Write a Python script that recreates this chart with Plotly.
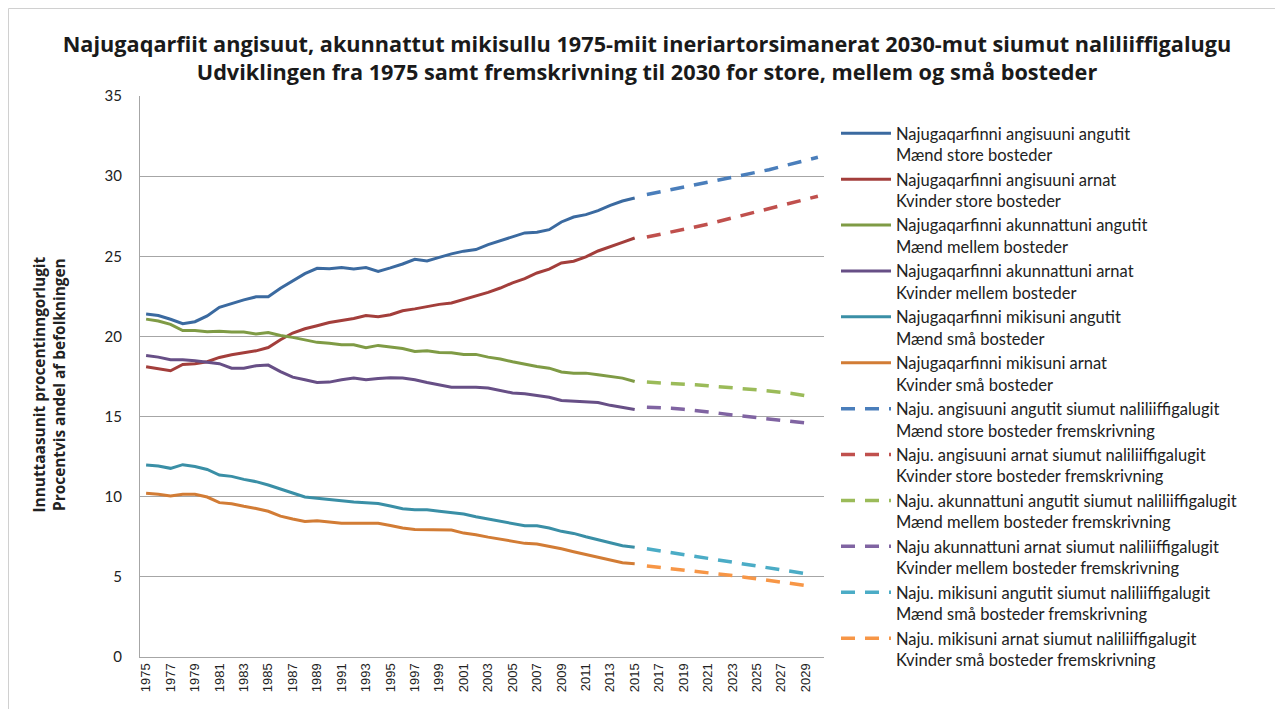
import plotly.graph_objects as go

years_hist = list(range(1975, 2016))
years_proj_long = list(range(2016, 2031))
years_proj_short = list(range(2016, 2030))

maend_store = [21.4, 21.3, 21.07, 20.8, 20.92, 21.28, 21.82, 22.06, 22.28, 22.47, 22.47,
               23.0, 23.44, 23.92, 24.25, 24.22, 24.3, 24.2, 24.3, 24.06, 24.28,
               24.52, 24.81, 24.71, 24.93, 25.15, 25.32, 25.42, 25.73, 25.98, 26.25,
               26.46, 26.5, 26.66, 27.14, 27.45, 27.6, 27.85, 28.18, 28.45, 28.64]
kvinder_store = [18.11, 18.0, 17.86, 18.25, 18.3, 18.42, 18.69, 18.86, 19.0, 19.1, 19.31,
                 19.79, 20.21, 20.48, 20.67, 20.87, 21.0, 21.12, 21.3, 21.23, 21.35,
                 21.6, 21.72, 21.88, 22.0, 22.09, 22.3, 22.5, 22.75, 23.02, 23.34,
                 23.6, 23.96, 24.2, 24.58, 24.69, 24.96, 25.33, 25.62, 25.87, 26.14]
maend_mellem = [21.08, 20.96, 20.75, 20.37, 20.37, 20.29, 20.33, 20.27, 20.27, 20.15, 20.25,
                20.06, 19.94, 19.79, 19.63, 19.58, 19.48, 19.48, 19.29, 19.44, 19.35,
                19.25, 19.06, 19.1, 19.0, 18.98, 18.88, 18.88, 18.71, 18.59, 18.42,
                18.27, 18.13, 18.02, 17.78, 17.71, 17.71, 17.61, 17.5, 17.4, 17.19]
kvinder_mellem = [18.81, 18.71, 18.54, 18.54, 18.48, 18.38, 18.3, 18.02, 18.02, 18.17, 18.21,
                  17.8, 17.46, 17.3, 17.13, 17.15, 17.3, 17.4, 17.3, 17.38, 17.42,
                  17.41, 17.3, 17.13, 17.0, 16.83, 16.83, 16.83, 16.78, 16.63, 16.47,
                  16.42, 16.3, 16.21, 16.0, 15.96, 15.92, 15.88, 15.7, 15.55, 15.44]
maend_smaa = [11.98, 11.91, 11.77, 12.0, 11.89, 11.7, 11.35, 11.27, 11.08, 10.94, 10.73,
              10.5, 10.23, 9.98, 9.9, 9.85, 9.77, 9.67, 9.63, 9.58, 9.42,
              9.25, 9.19, 9.19, 9.1, 9.0, 8.92, 8.75, 8.61, 8.46, 8.3,
              8.19, 8.19, 8.05, 7.84, 7.71, 7.5, 7.3, 7.13, 6.94, 6.84]
kvinder_smaa = [10.21, 10.15, 10.04, 10.15, 10.15, 9.98, 9.63, 9.56, 9.4, 9.27, 9.09,
                8.79, 8.61, 8.46, 8.5, 8.4, 8.34, 8.34, 8.32, 8.34, 8.21,
                8.05, 7.96, 7.94, 7.92, 7.92, 7.73, 7.63, 7.48, 7.34, 7.19,
                7.09, 7.05, 6.92, 6.75, 6.57, 6.4, 6.24, 6.05, 5.88, 5.82]

proj_maend_store = [28.85, 29.0, 29.15, 29.3, 29.45, 29.6, 29.75, 29.9, 30.05, 30.2,
                    30.4, 30.6, 30.8, 31.0, 31.18]
proj_kvinder_store = [26.2, 26.35, 26.5, 26.7, 26.85, 27.0, 27.2, 27.4, 27.55, 27.75,
                      27.95, 28.15, 28.35, 28.55, 28.75]
proj_maend_mellem = [17.15, 17.12, 17.08, 17.02, 16.98, 16.92, 16.87, 16.8, 16.74, 16.67,
                     16.6, 16.52, 16.43, 16.3]
proj_kvinder_mellem = [15.58, 15.57, 15.52, 15.45, 15.38, 15.3, 15.2, 15.1, 15.02, 14.93,
                       14.85, 14.77, 14.68, 14.6]
proj_maend_smaa = [6.75, 6.63, 6.5, 6.38, 6.26, 6.14, 6.03, 5.91, 5.8, 5.68,
                   5.56, 5.45, 5.33, 5.2]
proj_kvinder_smaa = [5.68, 5.6, 5.52, 5.44, 5.36, 5.27, 5.18, 5.08, 4.98, 4.88,
                     4.78, 4.68, 4.57, 4.46]

names = [
    "Najugaqarfinni angisuuni angutit<br>Mænd store bosteder",
    "Najugaqarfinni angisuuni arnat<br>Kvinder store bosteder",
    "Najugaqarfinni akunnattuni angutit<br>Mænd mellem bosteder",
    "Najugaqarfinni akunnattuni arnat<br>Kvinder mellem bosteder",
    "Najugaqarfinni mikisuni angutit<br>Mænd små bosteder",
    "Najugaqarfinni mikisuni arnat<br>Kvinder små bosteder",
    "Naju. angisuuni angutit siumut naliliiffigalugit<br>Mænd store bosteder fremskrivning",
    "Naju. angisuuni arnat siumut naliliiffigalugit<br>Kvinder store bosteder fremskrivning",
    "Naju. akunnattuni angutit siumut naliliiffigalugit<br>Mænd mellem bosteder fremskrivning",
    "Naju akunnattuni arnat siumut naliliiffigalugit<br>Kvinder mellem bosteder fremskrivning",
    "Naju. mikisuni angutit siumut naliliiffigalugit<br>Mænd små bosteder fremskrivning",
    "Naju. mikisuni arnat siumut naliliiffigalugit<br>Kvinder små bosteder fremskrivning",
]

hist_series = [maend_store, kvinder_store, maend_mellem, kvinder_mellem, maend_smaa, kvinder_smaa]
proj_series = [proj_maend_store, proj_kvinder_store, proj_maend_mellem,
               proj_kvinder_mellem, proj_maend_smaa, proj_kvinder_smaa]
proj_years = [years_proj_long, years_proj_long, years_proj_short,
              years_proj_short, years_proj_short, years_proj_short]

solid_colors = ["#3B6AA0", "#A33E3B", "#7F9B45", "#674F86", "#3A8FA6", "#D27C35"]
dash_colors = ["#4A7EBB", "#C0504D", "#9BBB59", "#8064A2", "#4BACC6", "#F79646"]

fig = go.Figure()
for k, (name, ys, c) in enumerate(zip(names[:6], hist_series, solid_colors)):
    fig.add_trace(go.Scatter(x=years_hist, y=ys, mode="lines", name=name,
                             legendgroup=f"g{k}",
                             line=dict(color=c, width=3)))
for k, (name, xs, ys, c) in enumerate(zip(names[6:], proj_years, proj_series, dash_colors)):
    fig.add_trace(go.Scatter(x=xs, y=ys, mode="lines", name=name,
                             legendgroup=f"g{k + 6}",
                             line=dict(color=c, width=3.5, dash="14px,10px")))

tick_years = list(range(1975, 2030, 2))

# figure is drawn inside the page's 8px body margin, so it is 8px smaller
W, H = 1275, 701
PL, PT = 132, 88          # plot area left / top in figure coords
PW, PH = 684, 561         # plot area size

fig.update_layout(
    width=W, height=H,
    paper_bgcolor="white", plot_bgcolor="white",
    margin=dict(l=PL, r=W - PL - PW, t=PT, b=H - PT - PH),
    title=dict(
        text="Najugaqarfiit angisuut, akunnattut mikisullu 1975-miit ineriartorsimanerat 2030-mut siumut naliliiffigalugu<br>Udviklingen fra 1975 samt fremskrivning til 2030 for store, mellem og små bosteder",
        font=dict(family="Open Sans", size=21.7, color="#1A1A1A", weight="bold"),
        x=639 / W, xanchor="center", xref="container",
        y=(H - 44) / H, yanchor="middle", yref="container",
    ),
    font=dict(family="Liberation Sans", color="#222222"),
    xaxis=dict(
        range=[1974.5, 2030.5], tickmode="array", tickvals=tick_years,
        ticktext=[str(y) for y in tick_years], tickangle=-90,
        tickfont=dict(size=13, family="Liberation Sans", color="#222222"),
        showgrid=False, showline=True, linecolor="#A6A6A6", linewidth=1.3,
        ticks="", zeroline=False,
    ),
    yaxis=dict(
        range=[0, 35], tickmode="array", tickvals=[0, 5, 10, 15, 20, 25, 30, 35],
        tickfont=dict(size=15, family="Lato", color="#222222"),
        showgrid=True, gridcolor="#A6A6A6", gridwidth=1.2,
        showline=True, linecolor="#A6A6A6", linewidth=1.3,
        ticks="", zeroline=False, ticklabelstandoff=14,
    ),
    legend=dict(
        x=(836 - 140) / PW, y=(657 - 116) / PH, xanchor="left", yanchor="top",
        font=dict(family="Lato", size=16.5, color="#222222"),
        valign="top", tracegroupgap=0, itemwidth=50,
        bgcolor="rgba(0,0,0,0)",
    ),
    showlegend=True,
    annotations=[dict(
        text="<b>Innuttaasunit procentinngorlugit<br>Procentvis andel af befolkningen</b>",
        xref="paper", yref="paper", x=(48.5 - 140) / PW, y=(657 - 385) / PH,
        xanchor="center", yanchor="middle", showarrow=False, textangle=-90,
        font=dict(family="Open Sans", size=15.4, color="#222222"),
    )],
    shapes=[
        dict(type="rect", xref="paper", yref="paper",
             x0=(-PL + 0.5) / PW, x1=(W + 10 - PL) / PW,
             y0=-(H - PT - PH + 10) / PH, y1=(PT + PH - 0.5) / PH,
             line=dict(color="#D0D0D0", width=1), fillcolor="rgba(0,0,0,0)", layer="below"),
    ],
)

fig.write_html("out.html")
